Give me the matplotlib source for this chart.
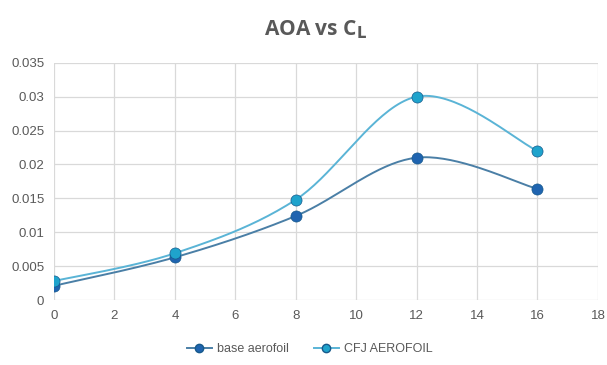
import numpy as np
import matplotlib
matplotlib.use("Agg")
import matplotlib.pyplot as plt

# data
aoa = [0, 4, 8, 12, 16]
cl_base = [0.0021, 0.0063, 0.0124, 0.0210, 0.0164]
cl_cfj = [0.0028, 0.0069, 0.0148, 0.0300, 0.0220]

plt.rcParams['font.family'] = ['Liberation Sans', 'DejaVu Sans']


def smooth(x, y, n=40):
    """Excel-like smoothed line (Catmull-Rom segments through the points)"""
    x = np.asarray(x, float)
    y = np.asarray(y, float)
    px = np.concatenate([[x[0]], x, [x[-1]]])
    py = np.concatenate([[y[0]], y, [y[-1]]])
    xs, ys = [], []
    t = np.linspace(0, 1, n)
    for i in range(1, len(px) - 2):
        p0, p1, p2, p3 = (np.array([px[j], py[j]]) for j in range(i - 1, i + 3))
        m1 = (p2 - p0) / 6
        m2 = (p3 - p1) / 6
        b0, b1, b2, b3 = p1, p1 + m1, p2 - m2, p2
        pts = ((1 - t) ** 3)[:, None] * b0 + (3 * (1 - t) ** 2 * t)[:, None] * b1 \
            + (3 * (1 - t) * t ** 2)[:, None] * b2 + (t ** 3)[:, None] * b3
        xs.append(pts[:, 0])
        ys.append(pts[:, 1])
    return np.concatenate(xs), np.concatenate(ys)


fig, ax = plt.subplots(figsize=(6.07, 3.65), dpi=100)
fig.subplots_adjust(left=0.089, right=0.985, top=0.828, bottom=0.178)

series = [
    (cl_base, 'base aerofoil', '#4a7fa6', '#1f64b0'),
    (cl_cfj, 'CFJ AEROFOIL', '#5ab4d6', '#1fa3cc'),
]
for vals, name, lc, mc in series:
    sx, sy = smooth(aoa, vals)
    ax.plot(sx, sy, color=lc, lw=1.4, zorder=3)
    ax.plot(aoa, vals, 'o', color=mc, ms=8, mec='#175a8c', mew=0.5, zorder=4)
    # legend proxy
    ax.plot([], [], '-o', color=lc, mfc=mc, mec='#175a8c', ms=6, lw=1.4, label=name)

ax.set_xlim(0, 18)
ax.set_ylim(0, 0.035)
ax.set_xticks(range(0, 19, 2))
ax.set_yticks(np.arange(0, 0.0351, 0.005))
ax.set_yticklabels(['0', '0.005', '0.01', '0.015', '0.02', '0.025', '0.03', '0.035'])
ax.grid(True, color='#d9d9d9', lw=0.9)
ax.set_axisbelow(True)
for s in ax.spines.values():
    s.set_visible(False)
ax.tick_params(length=0, labelsize=9.5, colors='#595959', pad=7)

fig.suptitle(r'AOA vs C$_\mathbf{L}$', x=0.52, y=0.95, fontsize=15, fontweight='bold',
             color='#595959', family='Open Sans')
ax.legend(loc='upper center', bbox_to_anchor=(0.47, -0.135), ncol=2, frameon=False,
          fontsize=9, labelcolor='#595959', handlelength=2.0, handletextpad=0.4,
          columnspacing=2.0)

plt.savefig('out.png', dpi=100)
